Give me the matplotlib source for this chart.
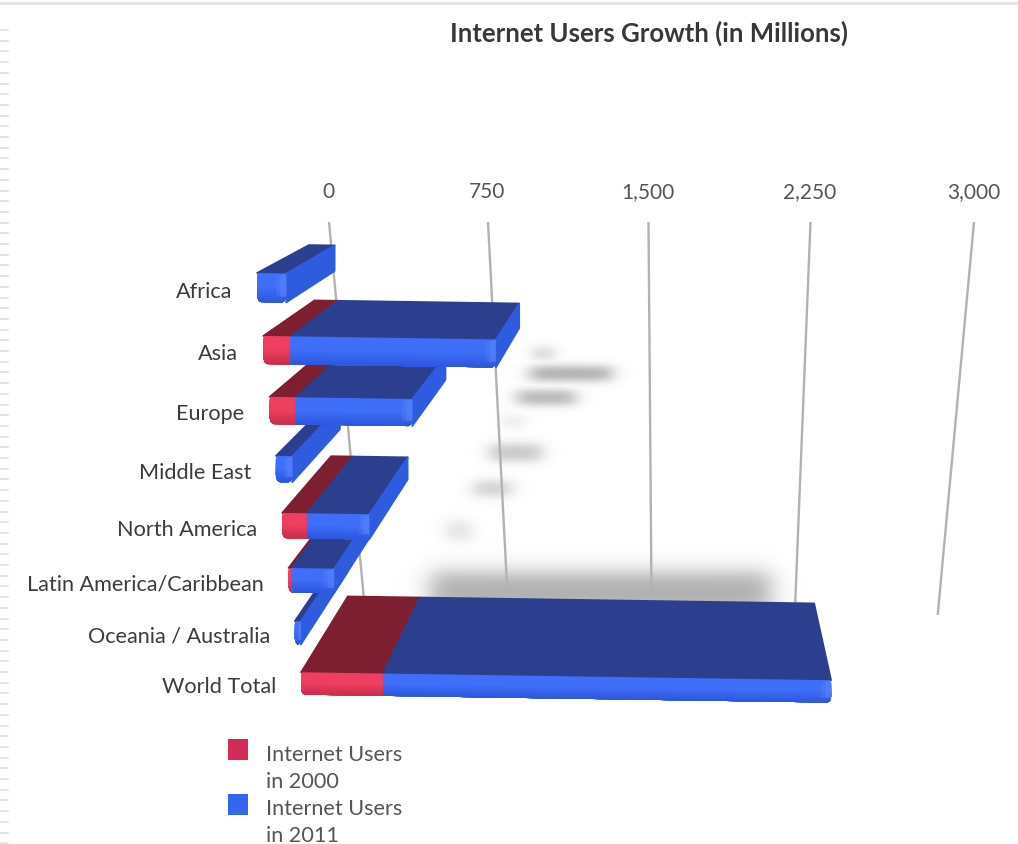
import numpy as np
import matplotlib
matplotlib.use("Agg")
import matplotlib.pyplot as plt
from matplotlib.patches import Polygon, Rectangle

plt.rcParams['font.family'] = ['Lato', 'DejaVu Sans']

# ---- data (millions of users) ----
regions = ["Africa", "Asia", "Europe", "Middle East", "North America",
           "Latin America/Caribbean", "Oceania / Australia", "World Total"]
users_2000 = [0, 115, 110, 0, 105, 12, 0, 350]
users_2011 = [125, 995, 610, 70, 372, 195, 26, 2267]
axis_values = [0, 750, 1500, 2250, 3000]
axis_labels = ["0", "750", "1,500", "2,250", "3,000"]
series_names = ["Internet Users\nin 2000", "Internet Users\nin 2011"]

# ---- scene geometry: perspective box chart ----
W, H = 1018, 844
VANISH = np.array([690.0, 40.0])
DEPTH = 0.12
SCALE = 0.2338
TILT = 0.0035


def front_left(row):
    return 257 + 6.3 * row


def row_top(row):
    return 273 + 63.9 * row - 0.98 * row ** 2


def row_height(row):
    return 29 - 0.95 * row


def project(value, row, level=0.0, depth=0.0):
    """Map a value on a row to the canvas; level 0 is the upper edge, 1 the lower."""
    x = front_left(row) + SCALE * value
    y = row_top(row) + TILT * value + level * row_height(row)
    p = np.array([x, y])
    return tuple(p + depth * (VANISH - p))


def grid_x(value, y):
    k = value / 750
    top = 329 + 158.25 * k + 0.75 * k ** 2
    low = 364 + 0.1917 * value
    return top + (low - top) * (y - 222) / (600 - 222)


def mix(c1, c2, f):
    a, b = np.array(matplotlib.colors.to_rgb(c1)), np.array(matplotlib.colors.to_rgb(c2))
    return tuple(a + (b - a) * f)


def corner_inset(level, radius=4.0):
    """Horizontal inset, in value units, that rounds the corners of a front face."""
    if level > 0.7:
        t = min(1.0, (level - 0.7) / 0.3)
    elif level < 0.15:
        t = 0.6 * (0.15 - level) / 0.15
    else:
        return 0.0
    return radius * (1 - np.sqrt(1 - t ** 2)) / SCALE


fig = plt.figure(figsize=(W / 100, H / 100), dpi=100, facecolor="white")
ax = fig.add_axes([0, 0, 1, 1])
ax.set_xlim(0, W)
ax.set_ylim(H, 0)
ax.axis("off")

# page furniture: rule along the top and the dashed strip on the left edge
ax.plot([0, W], [3, 3], color="#e2e2e2", lw=2, zorder=1)
for y in np.arange(30, H, 10.7):
    ax.plot([0, 8], [y, y], color="#dcdcdc", lw=1.1, zorder=1)

# soft drop shadows cast on the wall behind the bars
shadows = [  # left, right, centre y, half height, strength, soft x, soft y
    (533, 553, 353, 6, 0.40, 9, 5),
    (530, 611, 373, 7, 0.72, 10, 5),
    (517, 575, 397, 7, 0.66, 10, 5),
    (503, 523, 421, 6, 0.22, 10, 6),
    (490, 541, 452, 8, 0.52, 10, 6),
    (474, 511, 488, 7, 0.46, 10, 6),
    (447, 470, 530, 9, 0.30, 10, 7),
    (430, 770, 592, 20, 0.72, 14, 12),
]
yy, xx = np.mgrid[0:H, 0:W]
alpha = np.zeros((H, W))
for left, right, yc, hh, strength, sx, sy in shadows:
    soft_x = 0.5 * (np.tanh((xx - left) / sx) - np.tanh((xx - right) / sx))
    soft_y = 0.5 * (np.tanh((yy - (yc - hh)) / sy) - np.tanh((yy - (yc + hh)) / sy))
    alpha = np.maximum(alpha, strength * soft_x * soft_y)
rgba = np.zeros((H, W, 4))
rgba[..., :3] = 0.55
rgba[..., 3] = alpha
ax.imshow(rgba, extent=(0, W, H, 0), aspect="auto", zorder=2, interpolation="bilinear")
ax.set_xlim(0, W)
ax.set_ylim(H, 0)

# axis lines and their labels
for v, lab in zip(axis_values, axis_labels):
    bottom = 615
    ax.plot([grid_x(v, 222), grid_x(v, bottom)], [222, bottom], color="#b2b2b2",
            lw=1.7, zorder=3, solid_capstyle="butt")
    ax.text(grid_x(v, 222) - 0.5, 192, lab, ha="center", va="center", fontsize=15,
            color="#555555", zorder=6)

RED_TOP, BLUE_TOP = "#7d1f30", "#2b3f8e"
RED_HI, RED_LO = "#ee3f60", "#c92b48"
BLUE_HI, BLUE_LO = "#3f6ef8", "#2c55de"
BLUE_SIDE = "#2f5be0"
BLUE_BEVEL = "#5c86f7"

# bars are painted from the front row to the back row
z = 10
for row in range(len(regions) - 1, -1, -1):
    early, total = users_2000[row], users_2011[row]
    # upper face
    if early > 0:
        ax.add_patch(Polygon([project(0, row), project(early, row),
                              project(early, row, depth=DEPTH), project(0, row, depth=DEPTH)],
                             closed=True, fc=RED_TOP, ec=RED_TOP, lw=1.2, joinstyle="round", zorder=z))
    ax.add_patch(Polygon([project(early, row), project(total, row),
                          project(total, row, depth=DEPTH), project(early, row, depth=DEPTH)],
                         closed=True, fc=BLUE_TOP, ec=BLUE_TOP, lw=1.2, joinstyle="round", zorder=z))
    # right-hand face, visible only while the bar ends left of the vanishing point
    if project(total, row)[0] < VANISH[0]:
        ax.add_patch(Polygon([project(total, row), project(total, row, 1),
                              project(total, row, 1, DEPTH), project(total, row, 0, DEPTH)],
                             closed=True, fc=BLUE_SIDE, ec=BLUE_SIDE, lw=1.2, joinstyle="round",
                             zorder=z + 1))
    # front face, shaded from the lit upper edge downwards; each band runs to the
    # lower edge so that neighbouring bands leave no seam
    bands = 22
    for k in range(bands):
        a = k / bands
        f = max(0.0, (a - 0.45) / 0.55)
        outline_levels = [i / bands for i in range(k, bands + 1)]
        col = mix(BLUE_HI, BLUE_LO, f)
        pts = [project(max(early, corner_inset(lv)), row, lv) for lv in outline_levels]
        pts += [project(total - corner_inset(lv), row, lv) for lv in reversed(outline_levels)]
        ax.add_patch(Polygon(pts, closed=True, fc=col, ec="none", zorder=z + 2))
        if early > 0:
            col = mix(RED_HI, RED_LO, f)
            pts = [project(corner_inset(lv), row, lv) for lv in outline_levels]
            pts += [project(early, row, lv) for lv in reversed(outline_levels)]
            ax.add_patch(Polygon(pts, closed=True, fc=col, ec="none", zorder=z + 2))
    # lighter bevel on the corner where front and side meet
    bevel = min(42, total * 0.5)
    if bevel > 0:
        for share, op in ((1.0, 0.30), (0.6, 0.45)):
            span = bevel * share
            ax.add_patch(Polygon([project(total - span, row, 0.08), project(total, row, 0.0),
                                  project(total, row, 0.8), project(total - span, row, 0.8)],
                                 closed=True, fc=BLUE_BEVEL, ec="none", alpha=op, zorder=z + 3))
    z += 5

    # category label sits left of its bar
    ax.text(front_left(row) - 25, row_top(row) + row_height(row) / 2 + 4, regions[row],
            ha="right", va="center", fontsize=15.6, color="#3c3c3c", zorder=6)

# title
ax.text(649, 33, "Internet Users Growth (in Millions)", ha="center", va="center",
        fontsize=18.5, fontweight="bold", color="#383838", zorder=6)

# legend
ax.add_patch(Rectangle((228, 739), 20, 21, fc="#d42a58", ec="none", zorder=6))
ax.add_patch(Rectangle((228, 794), 20, 21, fc="#3366ee", ec="none", zorder=6))
line_y = 755
for name in series_names:
    for line in name.split("\n"):
        ax.text(266, line_y, line, ha="left", va="center", fontsize=15.6, color="#555555", zorder=6)
        line_y += 27

fig.savefig("out.png", dpi=100, facecolor="white")
